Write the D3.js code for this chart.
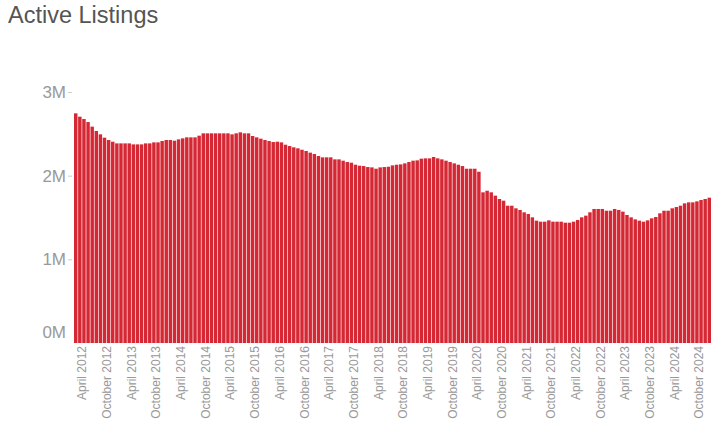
<!DOCTYPE html>
<html>
<head>
<meta charset="utf-8">
<script src="https://cdn.jsdelivr.net/npm/d3@7/dist/d3.min.js"></script>
<style>
  html, body { margin: 0; padding: 0; background: #fff; }
  svg { display: block; font-family: "Liberation Sans", Arial, Helvetica, sans-serif; }
</style>
</head>
<body>
<svg id="chart" width="728" height="440"></svg>
<script>
const title = "Active Listings";

const months = [
  "2012-02","2012-03","2012-04","2012-05","2012-06","2012-07","2012-08","2012-09","2012-10","2012-11","2012-12",
  "2013-01","2013-02","2013-03","2013-04","2013-05","2013-06","2013-07","2013-08","2013-09","2013-10","2013-11","2013-12",
  "2014-01","2014-02","2014-03","2014-04","2014-05","2014-06","2014-07","2014-08","2014-09","2014-10","2014-11","2014-12",
  "2015-01","2015-02","2015-03","2015-04","2015-05","2015-06","2015-07","2015-08","2015-09","2015-10","2015-11","2015-12",
  "2016-01","2016-02","2016-03","2016-04","2016-05","2016-06","2016-07","2016-08","2016-09","2016-10","2016-11","2016-12",
  "2017-01","2017-02","2017-03","2017-04","2017-05","2017-06","2017-07","2017-08","2017-09","2017-10","2017-11","2017-12",
  "2018-01","2018-02","2018-03","2018-04","2018-05","2018-06","2018-07","2018-08","2018-09","2018-10","2018-11","2018-12",
  "2019-01","2019-02","2019-03","2019-04","2019-05","2019-06","2019-07","2019-08","2019-09","2019-10","2019-11","2019-12",
  "2020-01","2020-02","2020-03","2020-04","2020-05","2020-06","2020-07","2020-08","2020-09","2020-10","2020-11","2020-12",
  "2021-01","2021-02","2021-03","2021-04","2021-05","2021-06","2021-07","2021-08","2021-09","2021-10","2021-11","2021-12",
  "2022-01","2022-02","2022-03","2022-04","2022-05","2022-06","2022-07","2022-08","2022-09","2022-10","2022-11","2022-12",
  "2023-01","2023-02","2023-03","2023-04","2023-05","2023-06","2023-07","2023-08","2023-09","2023-10","2023-11","2023-12",
  "2024-01","2024-02","2024-03","2024-04","2024-05","2024-06","2024-07","2024-08","2024-09","2024-10","2024-11","2024-12"
];

// Active listings, millions
const listings = [
  2.745,2.705,2.677,2.641,2.586,2.534,2.494,2.454,2.426,2.406,2.386,
  2.386,2.386,2.386,2.374,2.374,2.374,2.386,2.386,2.398,2.398,2.414,2.426,
  2.426,2.418,2.434,2.446,2.458,2.458,2.458,2.478,2.506,2.506,2.506,2.506,
  2.506,2.506,2.506,2.494,2.506,2.518,2.506,2.506,2.474,2.458,2.442,2.426,
  2.414,2.402,2.406,2.398,2.370,2.354,2.339,2.327,2.310,2.295,2.275,2.259,
  2.235,2.219,2.219,2.219,2.195,2.195,2.179,2.163,2.155,2.131,2.119,2.115,
  2.103,2.099,2.083,2.099,2.103,2.107,2.123,2.131,2.135,2.147,2.163,2.179,
  2.183,2.203,2.207,2.207,2.223,2.207,2.195,2.179,2.163,2.147,2.131,2.115,
  2.083,2.083,2.083,2.047,1.801,1.820,1.801,1.761,1.721,1.701,1.641,1.641,
  1.610,1.590,1.562,1.542,1.502,1.462,1.450,1.450,1.466,1.450,1.450,1.450,
  1.438,1.438,1.450,1.470,1.502,1.522,1.562,1.602,1.602,1.602,1.581,1.581,
  1.602,1.590,1.570,1.530,1.502,1.478,1.462,1.450,1.466,1.490,1.506,1.550,
  1.581,1.581,1.610,1.625,1.641,1.669,1.681,1.681,1.693,1.709,1.721,1.737
];

const xTickMonths = [
  "2012-04","2012-10","2013-04","2013-10","2014-04","2014-10","2015-04","2015-10",
  "2016-04","2016-10","2017-04","2017-10","2018-04","2018-10","2019-04","2019-10",
  "2020-04","2020-10","2021-04","2021-10","2022-04","2022-10","2023-04","2023-10",
  "2024-04","2024-10"
];
const xTickLabels = [
  "April 2012","October 2012","April 2013","October 2013","April 2014","October 2014",
  "April 2015","October 2015","April 2016","October 2016","April 2017","October 2017",
  "April 2018","October 2018","April 2019","October 2019","April 2020","October 2020",
  "April 2021","October 2021","April 2022","October 2022","April 2023","October 2023",
  "April 2024","October 2024"
];

const yTicks = [0, 1, 2, 3];
const yTickLabels = ["0M", "1M", "2M", "3M"];

const svg = d3.select("#chart");
const plotLeft = 74, plotRight = 711, plotTop = 92, plotBottom = 343;

const x = d3.scaleBand().domain(months).range([plotLeft, plotRight]).paddingInner(0.16).paddingOuter(0);
const y = d3.scaleLinear().domain([0, 3]).range([plotBottom, plotTop]);

svg.append("text")
  .attr("x", 8).attr("y", 23)
  .attr("font-size", 23.5)
  .attr("fill", "#555")
  .text(title);

svg.append("g")
  .selectAll("rect")
  .data(months.map((m, i) => ({ m, v: listings[i] })))
  .join("rect")
  .attr("x", d => x(d.m))
  .attr("width", x.bandwidth())
  .attr("y", d => y(d.v))
  .attr("height", d => y(0) - y(d.v))
  .attr("fill", "#d62834");

// Y axis
const yAxis = svg.append("g")
  .attr("transform", `translate(${plotLeft - 2},0)`)
  .call(d3.axisLeft(y).tickValues(yTicks)
    .tickFormat((d, i) => yTickLabels[i]).tickSize(4).tickPadding(2));
yAxis.select(".domain").remove();
yAxis.selectAll(".tick line").attr("stroke", "#ccc");
yAxis.selectAll(".tick text")
  .attr("fill", "#999")
  .attr("font-size", 17)
  .attr("font-family", "Liberation Sans, Arial, sans-serif");
yAxis.selectAll(".tick").filter(d => d === 0).select("line").remove();
yAxis.selectAll(".tick").filter(d => d === 0).select("text").attr("dy", "-0.35em");

// X axis
const xAxis = svg.append("g")
  .attr("transform", `translate(0,${plotBottom})`)
  .call(d3.axisBottom(x).tickValues(xTickMonths)
    .tickFormat((d, i) => xTickLabels[i]).tickSize(0).tickPadding(0));
xAxis.select(".domain").remove();
xAxis.selectAll(".tick text")
  .attr("fill", "#999")
  .attr("font-size", 12)
  .attr("font-family", "Liberation Sans, Arial, sans-serif")
  .attr("text-anchor", "end")
  .attr("transform", "rotate(-90)")
  .attr("x", -3)
  .attr("y", 0)
  .attr("dy", "0.2em");
</script>
</body>
</html>
